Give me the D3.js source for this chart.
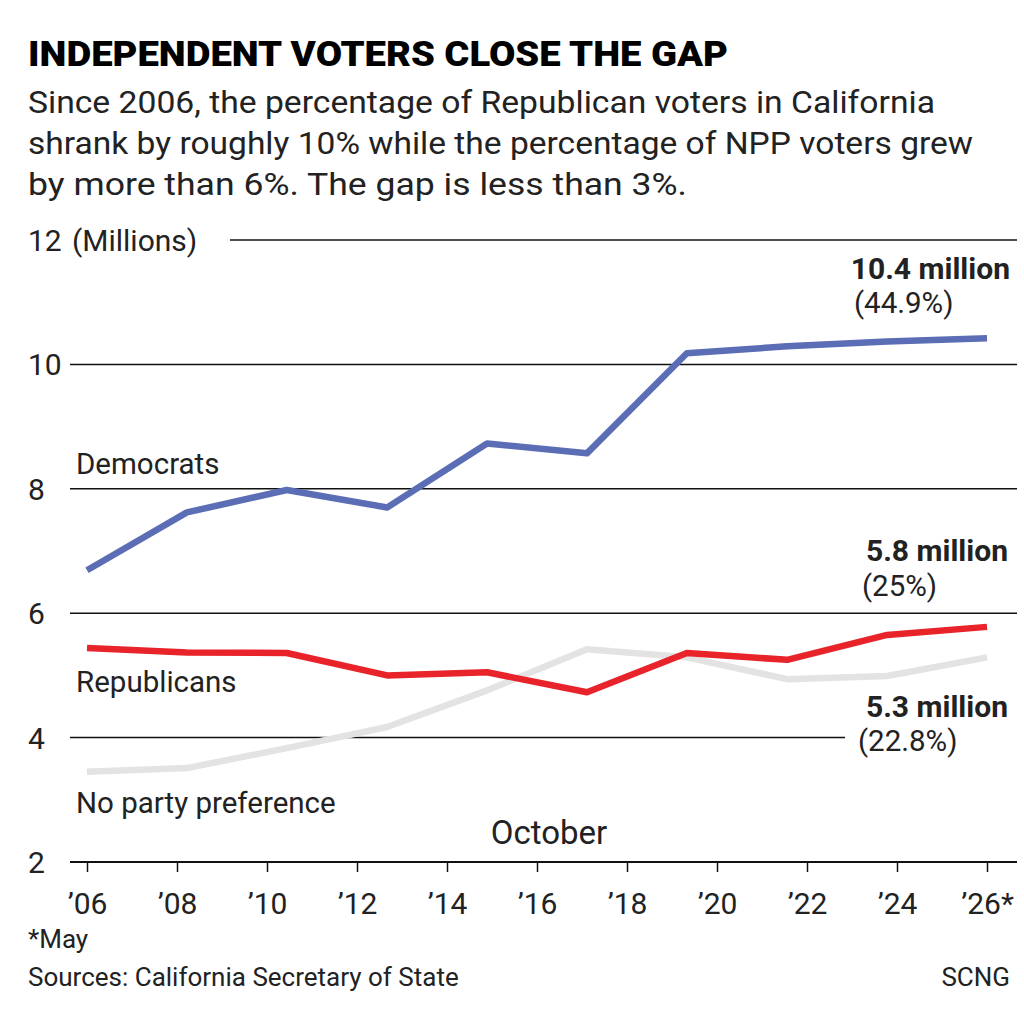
<!DOCTYPE html>
<html><head><meta charset="utf-8">
<script src="https://cdn.jsdelivr.net/npm/d3@7"></script>
<style>body{margin:0;background:#fff}</style>
</head><body>
<div id="chart"></div>
<script>
// Data (millions of registered voters)
const years = [2006, 2008.22, 2010.44, 2012.67, 2014.89, 2017.11, 2019.33, 2021.56, 2023.78, 2026];
const democrats = [6.69, 7.62, 7.98, 7.70, 8.73, 8.57, 10.18, 10.29, 10.37, 10.42];
const republicans = [5.44, 5.37, 5.36, 5.00, 5.05, 4.73, 5.36, 5.25, 5.65, 5.78];
const noParty = [3.45, 3.51, 3.83, 4.17, 4.76, 5.42, 5.29, 4.94, 4.99, 5.29];
const tickYears = [2006, 2008, 2010, 2012, 2014, 2016, 2018, 2020, 2022, 2024, 2026];
const tickLabels = ["’06", "’08", "’10", "’12", "’14", "’16", "’18", "’20", "’22", "’24", "’26*"];
const yTicks = [2, 4, 6, 8, 10, 12];

const width = 1024, height = 1024;
const font = "Roboto, 'Open Sans', sans-serif";

const svg = d3.select("#chart").append("svg")
  .attr("width", width).attr("height", height)
  .style("font-family", font);

const x = d3.scaleLinear().domain([2006, 2026]).range([87, 987]);
const y = d3.scaleLinear().domain([2, 12]).range([862, 240]);

// Title + subtitle
svg.append("text").attr("x", 28).attr("y", 66)
  .style("font-size", "35px").style("font-weight", "900")
  .attr("textLength", 700).attr("lengthAdjust", "spacingAndGlyphs")
  .text("INDEPENDENT VOTERS CLOSE THE GAP");
const sub = ["Since 2006, the percentage of Republican voters in California",
  "shrank by roughly 10% while the percentage of NPP voters grew",
  "by more than 6%. The gap is less than 3%."];
const subLen = [907, 945, 659];
sub.forEach((s, i) => svg.append("text").attr("x", 28).attr("y", 113 + i * 41)
  .style("font-size", "32px").attr("fill", "#222")
  .attr("textLength", subLen[i]).attr("lengthAdjust", "spacingAndGlyphs").text(s));

// Gridlines
const gridStart = {12: 230, 10: 70, 8: 70, 6: 70, 4: 70, 2: 70};
const gridEnd = {12: 1017, 10: 1017, 8: 1017, 6: 1017, 4: 845, 2: 1017};
svg.selectAll(".grid").data(yTicks).enter().append("line")
  .attr("x1", d => gridStart[d]).attr("x2", d => gridEnd[d])
  .attr("y1", d => y(d)).attr("y2", d => y(d))
  .attr("stroke", "#111").attr("stroke-width", d => d === 2 ? 2 : 1.5);

svg.selectAll(".ylab").data(yTicks).enter().append("text")
  .attr("x", 28).attr("y", d => y(d) + 11)
  .style("font-size", "30px").attr("fill", "#222").text(d => d);
svg.append("text").attr("x", 72).attr("y", y(12) + 11)
  .style("font-size", "30px").attr("fill", "#222").text("(Millions)");

// X axis
const xAxis = svg.append("g").attr("transform", `translate(0,${y(2)})`)
  .call(d3.axisBottom(x).tickValues(tickYears).tickSize(10).tickFormat((d, i) => tickLabels[i]));
xAxis.select(".domain").remove();
xAxis.selectAll("line").attr("stroke", "#111").attr("stroke-width", 1.5);
xAxis.selectAll("text").style("font-size", "30px").style("font-family", font)
  .attr("fill", "#222").attr("dy", "1.3em");

// Lines
const line = d3.line().x((d, i) => x(years[i])).y(d => y(d));
[[noParty, "#e3e3e3"], [democrats, "#5a6db5"], [republicans, "#e8232a"]].forEach(([s, c]) => {
  svg.append("path").datum(s).attr("d", line).attr("fill", "none")
    .attr("stroke", c).attr("stroke-width", 6.5).attr("stroke-linejoin", "round");
});

// Labels
const lab = (t, xx, yy, opts = {}) => svg.append("text").attr("x", xx).attr("y", yy)
  .style("font-size", opts.size || "29.5px").style("font-weight", opts.bold ? "700" : "400")
  .attr("text-anchor", opts.anchor || "start").attr("fill", "#222").text(t);
lab("Democrats", 76, 474);
lab("Republicans", 76, 692);
lab("No party preference", 76, 813);
lab("October", 549, 844, {anchor: "middle", size: "33px"});
lab("10.4 million", 1010, 279, {anchor: "end", bold: true, size: "30px"});
lab("(44.9%)", 854, 313);
lab("5.8 million", 1008, 561, {anchor: "end", bold: true, size: "30px"});
lab("(25%)", 862, 596);
lab("5.3 million", 1008, 717, {anchor: "end", bold: true, size: "30px"});
lab("(22.8%)", 858, 751);
lab("*May", 28, 948, {size: "26px"});
lab("Sources: California Secretary of State", 28, 986, {size: "26px"});
lab("SCNG", 1010, 986, {anchor: "end", size: "26px"});
</script>
</body></html>
